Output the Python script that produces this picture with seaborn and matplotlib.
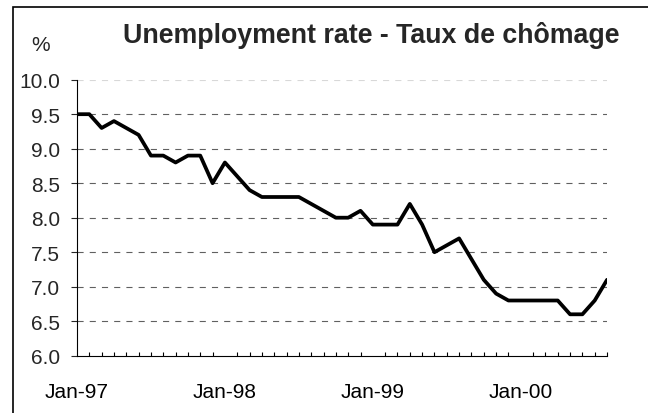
import numpy as np
import pandas as pd
import seaborn as sns
import matplotlib.pyplot as plt
from matplotlib.patches import Rectangle
from matplotlib.ticker import MultipleLocator, FixedLocator

# monthly unemployment rate, Jan-97 .. Aug-00
months = pd.date_range('1997-01-01', '2000-08-01', freq='MS')
rate = [9.5, 9.5, 9.3, 9.4, 9.3, 9.2, 8.9, 8.9, 8.8, 8.9, 8.9, 8.5,
        8.8, 8.6, 8.4, 8.3, 8.3, 8.3, 8.3, 8.2, 8.1, 8.0, 8.0, 8.1,
        7.9, 7.9, 7.9, 8.2, 7.9, 7.5, 7.6, 7.7, 7.4, 7.1, 6.9, 6.8,
        6.8, 6.8, 6.8, 6.8, 6.6, 6.6, 6.8, 7.1]
tick_labels = ['Jan-97', 'Jan-98', 'Jan-99', 'Jan-00']

df = pd.DataFrame({'idx': np.arange(len(months)), 'rate': rate})

sns.set_style('white')
plt.rcParams['font.family'] = ['Liberation Sans', 'DejaVu Sans']

fig = plt.figure(figsize=(6.48, 4.14), dpi=100)
ax = fig.add_axes([0.1188, 0.1384, 0.818, 0.6667])

sns.lineplot(data=df, x='idx', y='rate', color='black', linewidth=2.7, ax=ax)

ax.set_xlim(0, len(months) - 1)
ax.set_ylim(6.0, 10.0)
ax.yaxis.set_major_locator(MultipleLocator(0.5))
ax.set_yticklabels([f'{v:.1f}' for v in ax.get_yticks()])
ax.xaxis.set_major_locator(FixedLocator([0, 12, 24, 36]))
ax.xaxis.set_minor_locator(MultipleLocator(1))
ax.set_xticklabels(tick_labels)

# dashed horizontal gridlines (top one fainter, as in the source)
for y in np.arange(6.5, 10.01, 0.5):
    col = '#d8d8d8' if y > 9.9 else '#606060'
    ax.axhline(y, color=col, linewidth=0.8, dashes=(5.5, 5.5), zorder=0)

ax.tick_params(axis='x', which='major', direction='out', length=6, width=0.8,
               labelsize=15, pad=13, colors='black')
ax.tick_params(axis='x', which='minor', direction='in', length=3, width=0.8,
               bottom=True, color='black')
ax.tick_params(axis='y', which='major', direction='out', length=4, width=0.8,
               labelsize=15, pad=8, left=True)
for s in ['top', 'right']:
    ax.spines[s].set_visible(False)
for s in ['left', 'bottom']:
    ax.spines[s].set_color('black')
    ax.spines[s].set_linewidth(0.8)
ax.set_xlabel('')
ax.set_ylabel('')

fig.text(0.573, 0.915, 'Unemployment rate - Taux de chômage', ha='center', va='center',
         fontsize=19.3, fontweight='bold')
fig.text(0.062, 0.89, '%', ha='center', va='center', fontsize=15)

fig.patches.append(Rectangle((13 / 648, -0.05), 1.1, 1 - 8 / 414 + 0.05,
                             transform=fig.transFigure, fill=False,
                             edgecolor='black', linewidth=1.2))

fig.savefig('out.png', dpi=100)
